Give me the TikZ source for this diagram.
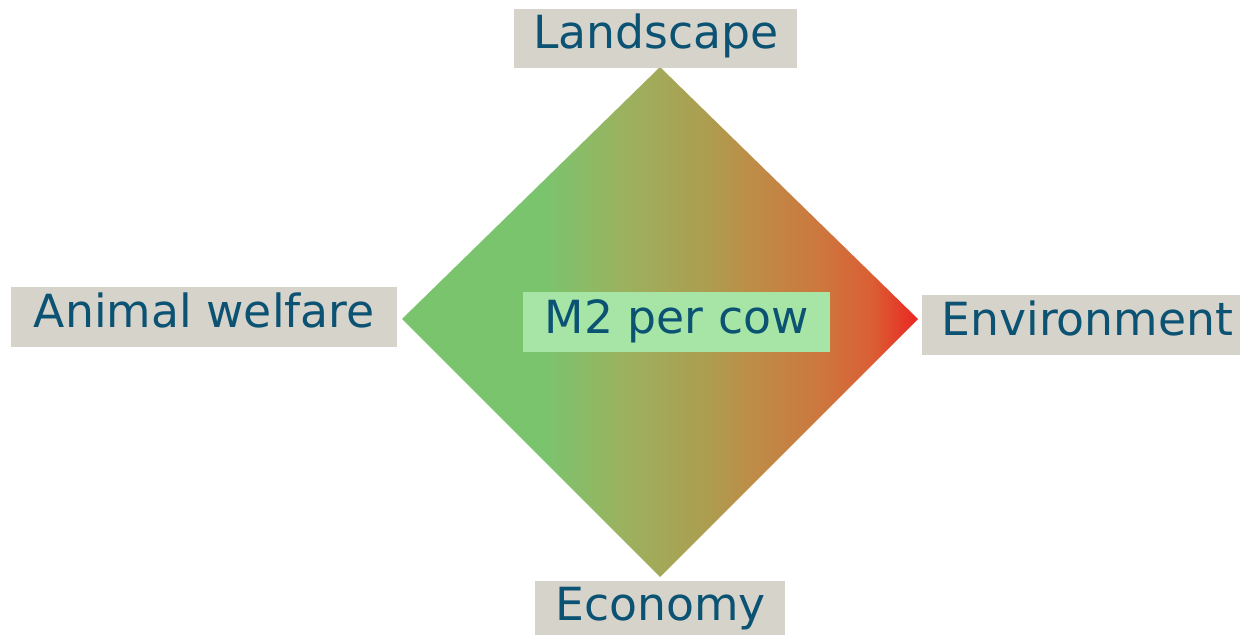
\documentclass[tikz,border=0pt]{standalone}
\usepackage{fontspec}
\setmainfont{DejaVu Sans}
\usepackage{tikz}
\definecolor{labelgray}{RGB}{214,211,203}
\definecolor{labelblue}{RGB}{11,82,115}
\definecolor{centergreen}{RGB}{166,229,166}
\definecolor{dgreen}{RGB}{122,196,110}
\definecolor{dlime}{RGB}{155,178,95}
\definecolor{dolive}{RGB}{172,158,80}
\definecolor{dbrown}{RGB}{190,140,70}
\definecolor{dorange}{RGB}{205,118,62}
\definecolor{dred}{RGB}{218,95,52}
\definecolor{dtip}{RGB}{234,38,34}
\pgfdeclarehorizontalshading{diamondshade}{100bp}{color(0bp)=(dgreen); color(38.6bp)=(dgreen); color(46.3bp)=(dlime); color(54.3bp)=(dolive); color(59.2bp)=(dbrown); color(65.7bp)=(dorange); color(70.5bp)=(dred); color(75bp)=(dtip); color(100bp)=(dtip)}

\begin{document}
\begin{tikzpicture}[x=0.02cm, y=-0.02cm]
          \tikzstyle{lnode} = [fill=labelgray, text=labelblue, inner sep=0pt, anchor=north west, align=center,
                               font=\fontsize{26pt}{30pt}\selectfont, text height=0.8cm, text depth=0.4cm]
          \useasboundingbox (0,0) rectangle (1240,635);

          % the diamond
          \coordinate (top) at (660,67);
          \coordinate (right) at (918,319);
          \coordinate (bottom) at (660,577);
          \coordinate (left) at (402,319);
          \shade[shading=diamondshade] (top)--(right)--(bottom)--(left)--cycle;

          % labels
          \node[lnode, minimum width=5.66cm, text height=0.78cm] (landscape) at (514,9) {Landscape};
          \node[lnode, minimum width=7.72cm] (welfare) at (11,287) {Animal welfare};
          \node[lnode, minimum width=6.6cm] (environment) at (922,295) {Environment};
          \node[lnode, minimum width=5cm, text height=0.78cm, text depth=0.3cm] (economy) at (535,581) {Economy};
          \node[lnode, fill=centergreen, minimum width=6.14cm, text height=0.82cm, text depth=0.38cm] (m2) at (523,292) {M2 per cow};
        \end{tikzpicture}
\end{document}
